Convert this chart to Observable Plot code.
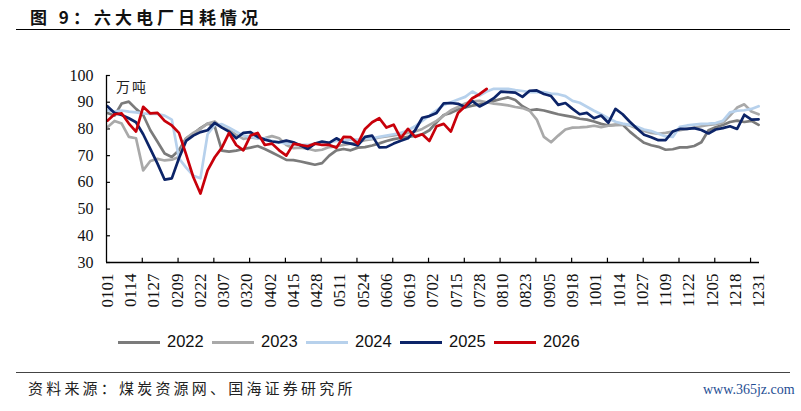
<!DOCTYPE html>
<html><head><meta charset="utf-8">
<script src="https://cdn.jsdelivr.net/npm/d3@7"></script>
<script src="https://cdn.jsdelivr.net/npm/@observablehq/plot@0.6"></script>
<style>
html,body{margin:0;padding:0;background:#fff;}
#wrap{position:relative;width:801px;height:411px;overflow:hidden;background:#fff;}
#chart{position:absolute;left:0;top:0;}
.abs{position:absolute;white-space:nowrap;}
#title{left:30px;top:4px;font:bold 17px "Noto Sans CJK SC";letter-spacing:4px;color:#111;}
#rule1{left:16px;top:29px;width:774px;height:0;border-top:1.6px solid #000;}
#rule2{left:16px;top:372px;width:774px;height:0;border-top:1.6px solid #444;}
#unit{left:116px;top:76px;font:14px "Noto Sans CJK SC";letter-spacing:2px;color:#222;}
#source{left:28px;top:377px;font:15px "Noto Sans CJK SC";letter-spacing:3.2px;color:#222;}
#mark{left:703px;top:382px;font:14px "Liberation Serif";color:#1f4e93;}
.leg{position:absolute;top:333px;height:20px;}
.leg .ln{position:absolute;left:0;top:8px;width:42px;height:3px;}
.leg .tx{position:absolute;left:49px;top:-1px;font:16.5px "Liberation Sans";color:#111;}
</style></head><body>
<div id="wrap">
 <div id="chart"></div>
 <div class="abs" id="title">图 9：六大电厂日耗情况</div>
 <div class="abs" id="rule1"></div>
 <div class="abs" id="unit">万吨</div>
 <div class="abs" id="rule2"></div>
 <div class="abs" id="source">资料来源：煤炭资源网、国海证券研究所</div>
 <div class="abs" id="mark">www.365jz.com</div>
</div>
<script>
// day-of-year sample positions (every 4 days, 0 = 0101)
const days = d3.range(0, 365, 4);
const xLabels = ["0101","0114","0127","0209","0222","0307","0320","0402","0415","0428","0511","0524","0606","0619","0702","0715","0728","0810","0823","0905","0918","1001","1014","1027","1109","1122","1205","1218","1231"];
const labelDays = xLabels.map((_, i) => i * 13);
const tickDays = d3.range(20, 361, 20);
const yTicks = [30, 40, 50, 60, 70, 80, 90, 100];
const years = ["2022", "2023", "2024", "2025", "2026"];
const colors = ["#7b7b7b", "#a9a9a9", "#b7d1ec", "#0c2468", "#c8000a"];

const v2022 = [86,85,89.5,90.2,87.5,85.2,79.5,75.2,70.8,69.5,72,76.5,78.2,80.3,82,81,71.9,71.5,71.9,72.5,73,73.6,72.5,71.2,69.8,68.4,68.3,67.8,67.2,66.6,67.2,70,72,
  72.5,72,73,73.2,73.8,74.6,75.5,76.2,76.6,77,77.4,78,79.5,82.5,85.2,86,87.3,88,88.7,89.2,90,90.5,91.2,91.8,90.8,88.5,87,87.3,86.9,86.2,85.5,85,84.5,83.8,83.5,82.8,81.9,81.3,81.5,81.6,79,76.8,74.8,73.9,73.3,72.2,72.4,73.1,73.1,73.6,75,79.5,80.6,81.5,82.6,83.1,82.6,83,81.5];
const v2023 = [80.6,83,82,77,76.5,64.5,68,68.8,68.2,68.5,69.5,76.5,78.5,80,82,82.8,80.6,79.5,77.8,76.3,76.8,76.5,76.6,77.3,76.5,74,72.8,73,72.6,71.9,72.2,73.2,73.5,
  74,74.5,75,75.8,76.2,76.8,77.2,77.6,78,78.5,79,80,81.5,83,85,87,88.2,89.5,90.3,90.5,90,89.5,89.2,88.8,88.2,87.8,86.8,83.5,77,75,77.5,79.8,80.5,80.6,80.8,81.2,80.7,81.2,81.5,81.7,81.3,80.2,79.2,78.5,78.2,78.5,79,79.5,80,80.5,81,81.5,81.8,82.3,85,88,89.2,86.5,85.5];
const v2024 = [87,86.5,86.9,86.5,86.2,85.8,85.6,85.6,85,83.5,69,65.5,62.5,61.5,78,81.5,81.8,80.5,79,77.5,77,76.5,76.5,75.5,75,74.5,74.5,74,74,74.5,74.5,75,75.5,
  75.5,76,76,76.5,76.5,77,77.5,78,78.5,79.5,81,83,85,87,89,90,91,92,94,92.5,94,95,95,95,94.5,94.2,93.8,93.8,93.8,93.2,93,92.3,90.5,89.8,88.3,86.8,85.5,84,82.7,82,81.5,80.8,79.8,79.2,78.2,77.2,77,80.8,81.3,81.6,81.9,82,82.2,83,86.2,86.8,87,87.5,88.5];
const v2025 = [88.5,86,85.2,84,82.5,78,72.5,67,61,61.5,69,75.5,77.5,78.8,79.5,82.3,80.5,79,76.5,78.5,78.8,77,76,75.3,75,75.6,75,73.8,72.5,74.5,75.3,74.8,76.5,
  75,74.5,73.8,77,77.5,73.1,73.2,74.5,75.6,76.5,79.5,84.2,84.8,86,89.6,89.7,89.4,88.2,90.4,88.4,89.8,91.5,94,93.8,93.6,92,94.3,94.4,93.1,92.3,89,89.7,87.5,85.5,86,84,85,82.3,87.5,85.5,82.7,80.2,77.8,76.9,75.8,75.8,79,80,80,80.3,79.6,78.3,79.8,80.3,81,80,85.3,83.5,83.6];
const v2026 = [83.1,85.5,85.8,82,79,88.3,85.8,86,83,81.3,78.5,70.5,62,55.8,64.5,69.4,73,78.5,74,72,77.5,78.5,74,74.5,72,70,74.4,74,73.5,74.5,74,74,73,
  77,76.9,74.5,80,82.5,84,80.5,81.6,76.5,80,77,78,75.5,81,81.9,79,86,88.5,91.5,93,95];

const seriesValues = [v2022, v2023, v2024, v2025, v2026];
const rows = [];
seriesValues.forEach((vals, s) => vals.forEach((v, i) => rows.push({year: years[s], x: days[i] + 0.5, y: v})));

const labelMap = new Map(labelDays.map((d, i) => [d + 0.5, xLabels[i]]));

const chart = Plot.plot({
  width: 801, height: 411,
  marginLeft: 106, marginRight: 42, marginTop: 75, marginBottom: 149,
  x: {domain: [0, 365]},
  y: {domain: [30, 100]},
  color: {domain: years, range: colors},
  style: {fontFamily: "Liberation Serif", fontSize: "16px", background: "transparent", color: "#111", overflow: "visible"},
  marks: [
    Plot.axisY({ticks: yTicks, tickSize: 0, tickPadding: 13, fontSize: 16, fontFamily: "Liberation Serif", label: null}),
    Plot.axisX({ticks: labelDays.map(d => d + 0.5), tickFormat: d => labelMap.get(d), tickRotate: -90, tickSize: 0, tickPadding: 11, fontSize: 17, fontFamily: "Liberation Serif", label: null}),
    Plot.ruleX(tickDays, {x: d => d, y1: 30, y2: 31.6, stroke: "#000", strokeWidth: 1.2}),
    Plot.ruleY(yTicks, {y: d => d, x1: 0, x2: 2.2, stroke: "#000", strokeWidth: 1.2}),
    ...years.map((yr, s) => Plot.line(rows.filter(r => r.year === yr), {x: "x", y: "y", stroke: colors[s], strokeWidth: 2.7, strokeLinejoin: "round"})),
    Plot.ruleY([30], {stroke: "#000", strokeWidth: 1.3}),
    Plot.ruleX([0], {stroke: "#000", strokeWidth: 1.3})
  ]
});
document.getElementById("chart").appendChild(chart);

// legend
const wrap = document.getElementById("wrap");
years.forEach((yr, s) => {
  const g = document.createElement("div");
  g.className = "leg";
  g.style.left = (118 + s * 94) + "px";
  g.innerHTML = `<div class="ln" style="background:${colors[s]}"></div><div class="tx">${yr}</div>`;
  wrap.appendChild(g);
});
</script>
</body></html>
